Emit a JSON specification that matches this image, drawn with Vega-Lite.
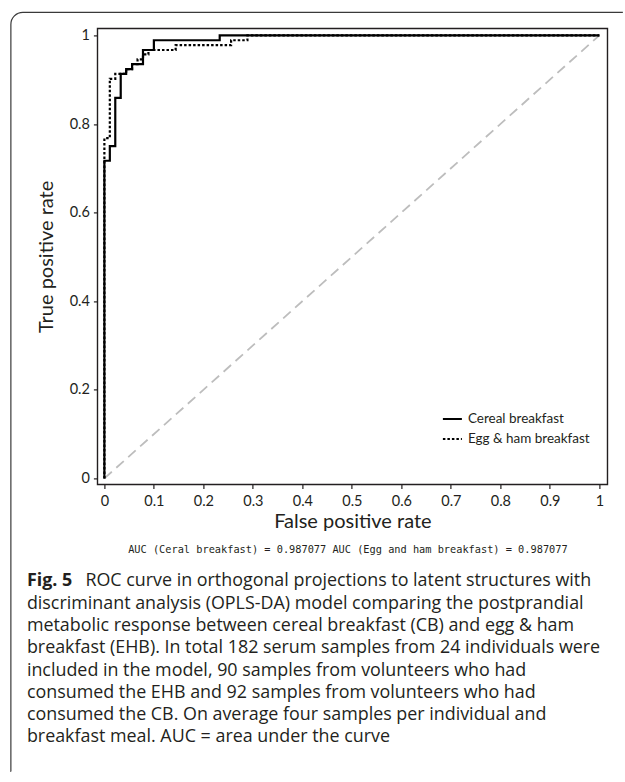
{
  "$schema": "https://vega.github.io/schema/vega-lite/v6.json",
  "background": "white",
  "padding": {"left": 9.4, "top": 10.4, "right": 0, "bottom": 0},
  "bounds": "flush",
  "spacing": 74.7,
  "datasets": {
    "roc": [
      {"breakfast": "Cereal breakfast", "i": 0, "fpr": 0, "tpr": 0},
      {"breakfast": "Cereal breakfast", "i": 1, "fpr": 0, "tpr": 0.717},
      {"breakfast": "Cereal breakfast", "i": 2, "fpr": 0.011, "tpr": 0.75},
      {"breakfast": "Cereal breakfast", "i": 3, "fpr": 0.022, "tpr": 0.859},
      {"breakfast": "Cereal breakfast", "i": 4, "fpr": 0.033, "tpr": 0.913},
      {"breakfast": "Cereal breakfast", "i": 5, "fpr": 0.044, "tpr": 0.924},
      {"breakfast": "Cereal breakfast", "i": 6, "fpr": 0.056, "tpr": 0.935},
      {"breakfast": "Cereal breakfast", "i": 7, "fpr": 0.078, "tpr": 0.967},
      {"breakfast": "Cereal breakfast", "i": 8, "fpr": 0.1, "tpr": 0.989},
      {"breakfast": "Cereal breakfast", "i": 9, "fpr": 0.233, "tpr": 1},
      {"breakfast": "Cereal breakfast", "i": 10, "fpr": 1, "tpr": 1},
      {"breakfast": "Egg & ham breakfast", "i": 0, "fpr": 0, "tpr": 0},
      {"breakfast": "Egg & ham breakfast", "i": 1, "fpr": 0, "tpr": 0.768},
      {"breakfast": "Egg & ham breakfast", "i": 2, "fpr": 0.011, "tpr": 0.902},
      {"breakfast": "Egg & ham breakfast", "i": 3, "fpr": 0.022, "tpr": 0.913},
      {"breakfast": "Egg & ham breakfast", "i": 4, "fpr": 0.044, "tpr": 0.924},
      {"breakfast": "Egg & ham breakfast", "i": 5, "fpr": 0.056, "tpr": 0.935},
      {"breakfast": "Egg & ham breakfast", "i": 6, "fpr": 0.067, "tpr": 0.946},
      {"breakfast": "Egg & ham breakfast", "i": 7, "fpr": 0.078, "tpr": 0.957},
      {"breakfast": "Egg & ham breakfast", "i": 8, "fpr": 0.089, "tpr": 0.967},
      {"breakfast": "Egg & ham breakfast", "i": 9, "fpr": 0.144, "tpr": 0.978},
      {"breakfast": "Egg & ham breakfast", "i": 10, "fpr": 0.256, "tpr": 0.989},
      {"breakfast": "Egg & ham breakfast", "i": 11, "fpr": 0.289, "tpr": 1},
      {"breakfast": "Egg & ham breakfast", "i": 12, "fpr": 1, "tpr": 1}
    ],
    "caption": [
      {"line": 1, "text": "ROC curve in orthogonal projections to latent structures with"},
      {"line": 2, "text": "discriminant analysis (OPLS-DA) model comparing the postprandial"},
      {"line": 3, "text": "metabolic response between cereal breakfast (CB) and egg & ham"},
      {"line": 4, "text": "breakfast (EHB). In total 182 serum samples from 24 individuals were"},
      {"line": 5, "text": "included in the model, 90 samples from volunteers who had"},
      {"line": 6, "text": "consumed the EHB and 92 samples from volunteers who had"},
      {"line": 7, "text": "consumed the CB. On average four samples per individual and"},
      {"line": 8, "text": "breakfast meal. AUC = area under the curve"}
    ]
  },
  "vconcat": [
    {
      "width": 510,
      "height": 456,
      "view": {"stroke": "#231f20", "strokeWidth": 1.4},
      "layer": [
        {
          "data": {"values": [{}]},
          "mark": {
            "type": "rect", "filled": false, "stroke": "#3a3a3a", "strokeWidth": 1.2,
            "cornerRadiusTopLeft": 12, "strokeDash": [600, 1371, 800, 0]
          },
          "encoding": {
            "x": {"datum": -0.1889, "type": "quantitative", "title": "False positive rate"},
            "x2": {"datum": 1.0475},
            "y": {"datum": 1.0519, "type": "quantitative", "title": "True positive rate"},
            "y2": {"datum": -0.6613}
          }
        },
        {
          "data": {"values": [{}]},
          "mark": {"type": "rule", "color": "#bdbdbd", "strokeWidth": 1.8, "strokeDash": [10, 6]},
          "encoding": {
            "x": {"datum": 0, "type": "quantitative", "title": "False positive rate"},
            "x2": {"datum": 1},
            "y": {"datum": 0, "type": "quantitative", "title": "True positive rate"},
            "y2": {"datum": 1}
          }
        },
        {
          "data": {"name": "roc"},
          "mark": {"type": "line", "interpolate": "step-after", "color": "#000000", "strokeWidth": 2.2},
          "encoding": {
            "x": {
              "field": "fpr", "type": "quantitative", "title": "False positive rate",
              "scale": {"domain": [-0.0141, 1.0162], "nice": false, "zero": false},
              "axis": {"values": [0, 0.1, 0.2, 0.3, 0.4, 0.5, 0.6, 0.7, 0.8, 0.9, 1], "format": "~g", "labelPadding": 6, "titlePadding": 4}
            },
            "y": {
              "field": "tpr", "type": "quantitative", "title": "True positive rate",
              "scale": {"domain": [-0.0135, 1.0158], "nice": false, "zero": false},
              "axis": {"values": [0, 0.2, 0.4, 0.6, 0.8, 1], "format": "~g", "labelPadding": 4, "titlePadding": 13}
            },
            "order": {"field": "i"},
            "strokeDash": {
              "field": "breakfast", "type": "nominal",
              "scale": {"domain": ["Cereal breakfast", "Egg & ham breakfast"], "range": [[1, 0], [2.5, 2]]},
              "legend": {
                "title": null, "orient": "none", "legendX": 344.5, "legendY": 380,
                "symbolType": "stroke", "symbolSize": 361, "symbolStrokeWidth": 2, "symbolStrokeColor": "#000000",
                "labelFont": "Lato", "labelFontSize": 13.5, "labelColor": "#231f20", "labelOffset": 5,
                "rowPadding": 3, "padding": 0
              }
            }
          }
        }
      ]
    },
    {
      "width": 510,
      "height": 178.4,
      "view": {"stroke": null},
      "layer": [
        {
          "data": {"values": [{"line": 0, "text": "AUC (Ceral breakfast) = 0.987077 AUC (Egg and ham breakfast) = 0.987077"}]},
          "mark": {"type": "text", "font": "DejaVu Sans Mono", "fontSize": 10.3, "align": "center", "baseline": "middle", "dx": -4.5, "dy": -9, "color": "#231f20"},
          "encoding": {
            "x": {"datum": 0.5, "type": "quantitative", "scale": {"domain": [0, 1]}, "axis": null},
            "y": {"field": "line", "type": "ordinal", "scale": {"type": "point", "padding": 0}, "axis": null},
            "text": {"field": "text"}
          }
        },
        {
          "data": {"values": [{"line": 1, "text": "Fig. 5"}]},
          "mark": {"type": "text", "font": "Open Sans", "fontSize": 17.9, "fontWeight": "bold", "align": "left", "baseline": "middle", "dx": -70.5, "color": "#231f20"},
          "encoding": {
            "x": {"datum": 0, "type": "quantitative", "axis": null},
            "y": {"field": "line", "type": "ordinal", "axis": null},
            "text": {"field": "text"}
          }
        },
        {
          "data": {"name": "caption"},
          "transform": [{"filter": "datum.line == 1"}],
          "mark": {"type": "text", "font": "Open Sans", "fontSize": 17.9, "align": "left", "baseline": "middle", "dx": -12, "color": "#231f20"},
          "encoding": {
            "x": {"datum": 0, "type": "quantitative", "axis": null},
            "y": {"field": "line", "type": "ordinal", "axis": null},
            "text": {"field": "text"}
          }
        },
        {
          "data": {"name": "caption"},
          "transform": [{"filter": "datum.line > 1"}],
          "mark": {"type": "text", "font": "Open Sans", "fontSize": 17.9, "align": "left", "baseline": "middle", "dx": -70.5, "color": "#231f20"},
          "encoding": {
            "x": {"datum": 0, "type": "quantitative", "axis": null},
            "y": {"field": "line", "type": "ordinal", "axis": null},
            "text": {"field": "text"}
          }
        }
      ]
    }
  ],
  "config": {
    "view": {"stroke": null},
    "font": "Lato",
    "axis": {
      "domain": false,
      "grid": false,
      "ticks": true,
      "tickColor": "#231f20",
      "tickSize": 4,
      "tickWidth": 1.2,
      "labelFont": "Lato",
      "labelFontSize": 14.5,
      "labelColor": "#231f20",
      "titleFont": "Lato",
      "titleFontSize": 20,
      "titleFontWeight": "normal",
      "titleColor": "#231f20"
    }
  }
}
